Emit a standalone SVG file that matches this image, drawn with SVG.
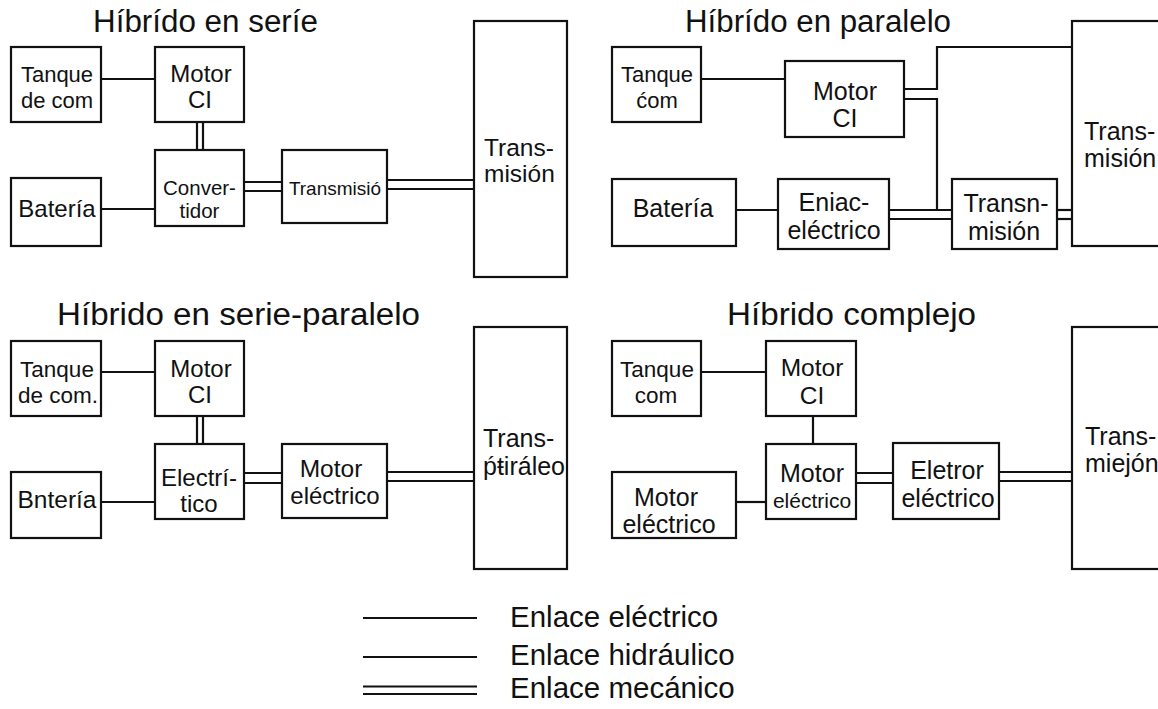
<svg xmlns="http://www.w3.org/2000/svg" width="1158" height="709" viewBox="0 0 1158 709">
<style>
text{font-family:"Liberation Sans",Arial,sans-serif;fill:#111}
.box{fill:#fff;stroke:#111;stroke-width:2.2}
.ln{fill:none;stroke:#111;stroke-width:2.2}
.t{text-anchor:middle}
.title{font-size:31px}
</style>
<rect width="1158" height="709" fill="#fff"/>
<g id="titles">
<text class="title" x="93" y="32" textLength="225" lengthAdjust="spacingAndGlyphs">Híbrído en seríe</text>
<text class="title" x="685" y="32" textLength="266" lengthAdjust="spacingAndGlyphs">Híbrído en paralelo</text>
<text class="title" x="57" y="325" textLength="363" lengthAdjust="spacingAndGlyphs">Híbrido en serie-paralelo</text>
<text class="title" x="727" y="325" textLength="249" lengthAdjust="spacingAndGlyphs">Híbrido complejo</text>
</g>
<g id="connectors">
<!-- Q1 -->
<line class="ln" x1="101" y1="79" x2="155" y2="79"/>
<line class="ln" x1="197" y1="122" x2="197" y2="150"/>
<line class="ln" x1="203" y1="122" x2="203" y2="150"/>
<line class="ln" x1="101" y1="209" x2="155" y2="209"/>
<line class="ln" x1="244" y1="182" x2="282" y2="182"/>
<line class="ln" x1="244" y1="191" x2="282" y2="191"/>
<line class="ln" x1="387" y1="180" x2="474" y2="180"/>
<line class="ln" x1="387" y1="189" x2="474" y2="189"/>
<!-- Q2 -->
<line class="ln" x1="701" y1="79" x2="785" y2="79"/>
<line class="ln" x1="736" y1="210" x2="778" y2="210"/>
<path class="ln" d="M904 89 H937 V47 H1072"/>
<path class="ln" d="M904 99 H937 V210"/>
<line class="ln" x1="889" y1="210" x2="952" y2="210"/>
<line class="ln" x1="889" y1="219" x2="952" y2="219"/>
<line class="ln" x1="1057" y1="210" x2="1072" y2="210"/>
<line class="ln" x1="1057" y1="219" x2="1072" y2="219"/>
<!-- Q3 -->
<line class="ln" x1="101" y1="372" x2="155" y2="372"/>
<line class="ln" x1="197" y1="416" x2="197" y2="444"/>
<line class="ln" x1="203" y1="416" x2="203" y2="444"/>
<line class="ln" x1="101" y1="502" x2="155" y2="502"/>
<line class="ln" x1="244" y1="473" x2="282" y2="473"/>
<line class="ln" x1="244" y1="483" x2="282" y2="483"/>
<line class="ln" x1="387" y1="472" x2="474" y2="472"/>
<line class="ln" x1="387" y1="481" x2="474" y2="481"/>
<!-- Q4 -->
<line class="ln" x1="701" y1="372" x2="766" y2="372"/>
<line class="ln" x1="813" y1="416" x2="813" y2="444"/>
<line class="ln" x1="736" y1="502" x2="766" y2="502"/>
<line class="ln" x1="856" y1="473" x2="893" y2="473"/>
<line class="ln" x1="856" y1="483" x2="893" y2="483"/>
<line class="ln" x1="999" y1="472" x2="1072" y2="472"/>
<line class="ln" x1="999" y1="481" x2="1072" y2="481"/>
</g>
<!-- Q1 nodes -->
<g id="q1-tanque"><rect class="box" x="11" y="47" width="90" height="75"/><text class="t" x="57" y="82" font-size="22">Tanque</text><text class="t" x="57" y="108" font-size="22">de com</text></g>
<g id="q1-motor"><rect class="box" x="155" y="47" width="89" height="75"/><text class="t" x="201" y="82" font-size="24">Motor</text><text class="t" x="200" y="108" font-size="24">CI</text></g>
<g id="q1-convertidor"><rect class="box" x="155" y="150" width="89" height="76"/><text class="t" x="199.5" y="195" font-size="20.5">Conver-</text><text class="t" x="199.5" y="218" font-size="20.5">tidor</text></g>
<g id="q1-bateria"><rect class="box" x="11" y="178" width="90" height="68"/><text class="t" x="57" y="217" font-size="24">Batería</text></g>
<g id="q1-transmisio"><rect class="box" x="282" y="150" width="105" height="73"/><text class="t" x="335" y="195" font-size="19">Transmisió</text></g>
<g id="q1-transmision"><rect class="box" x="474" y="21" width="93" height="256"/><text x="484" y="156" font-size="24.5">Trans-</text><text x="484" y="182" font-size="24.5">misión</text></g>
<!-- Q2 nodes -->
<g id="q2-tanque"><rect class="box" x="612" y="47" width="89" height="75"/><text class="t" x="657" y="82" font-size="22">Tanque</text><text class="t" x="657" y="108" font-size="22">ćom</text></g>
<g id="q2-motor"><rect class="box" x="785" y="61" width="119" height="76"/><text class="t" x="845" y="100" font-size="25">Motor</text><text class="t" x="845" y="127" font-size="25">CI</text></g>
<g id="q2-bateria"><rect class="box" x="612" y="179" width="124" height="67"/><text class="t" x="673" y="217" font-size="25">Batería</text></g>
<g id="q2-eniac"><rect class="box" x="778" y="179" width="111" height="70"/><text class="t" x="834" y="211" font-size="25">Eniac-</text><text class="t" x="834" y="239" font-size="25">eléctrico</text></g>
<g id="q2-transn"><rect class="box" x="952" y="179" width="105" height="70"/><text class="t" x="1006" y="212" font-size="25">Transn-</text><text class="t" x="1004" y="240" font-size="25">misión</text></g>
<g id="q2-transmision"><rect class="box" x="1072" y="21" width="120" height="225"/><text x="1084" y="140" font-size="25">Trans-</text><text x="1084" y="167" font-size="25">misión</text></g>
<!-- Q3 nodes -->
<g id="q3-tanque"><rect class="box" x="11" y="341" width="90" height="75"/><text class="t" x="57" y="377" font-size="22.5">Tanque</text><text class="t" x="58" y="403" font-size="22.5">de com.</text></g>
<g id="q3-motor"><rect class="box" x="155" y="341" width="89" height="75"/><text class="t" x="201" y="377" font-size="24">Motor</text><text class="t" x="200" y="403" font-size="24">CI</text></g>
<g id="q3-electrico"><rect class="box" x="155" y="444" width="89" height="75"/><text class="t" x="199" y="486" font-size="24">Electrí-</text><text class="t" x="199" y="512" font-size="24">tico</text></g>
<g id="q3-bnteria"><rect class="box" x="11" y="472" width="90" height="66"/><text class="t" x="57" y="508" font-size="24.5">Bntería</text></g>
<g id="q3-motor-elec"><rect class="box" x="282" y="444" width="105" height="74"/><text class="t" x="331" y="477" font-size="24.5">Motor</text><text class="t" x="335" y="504" font-size="24">eléctrico</text></g>
<g id="q3-transmision"><rect class="box" x="474" y="327" width="93" height="242"/><text x="483" y="447" font-size="25">Trans-</text><text x="483" y="475" font-size="25">ṕŧiráleo</text></g>
<!-- Q4 nodes -->
<g id="q4-tanque"><rect class="box" x="612" y="341" width="89" height="75"/><text class="t" x="657" y="377" font-size="22.5">Tanque</text><text class="t" x="656" y="403" font-size="22.5">com</text></g>
<g id="q4-motor"><rect class="box" x="766" y="341" width="90" height="75"/><text class="t" x="812" y="376" font-size="24.5">Motor</text><text class="t" x="812" y="404" font-size="24.5">CI</text></g>
<g id="q4-motor-elec-mid"><rect class="box" x="766" y="444" width="90" height="75"/><text class="t" x="812" y="482" font-size="25">Motor</text><text class="t" x="812" y="508" font-size="21">eléctrico</text></g>
<g id="q4-motor-elec-left"><rect class="box" x="612" y="472" width="124" height="66"/><text class="t" x="666" y="506" font-size="25">Motor</text><text class="t" x="669" y="533" font-size="25">eléctrico</text></g>
<g id="q4-eletror"><rect class="box" x="893" y="443" width="106" height="76"/><text class="t" x="947" y="479" font-size="25">Eletror</text><text class="t" x="948" y="507" font-size="25">eléctrico</text></g>
<g id="q4-transmision"><rect class="box" x="1072" y="327" width="120" height="242"/><text x="1085" y="445" font-size="25">Trans-</text><text x="1085" y="472" font-size="25">miejón</text></g>
<!-- Legend -->
<g id="legend">
<line class="ln" x1="363" y1="618" x2="477" y2="618"/>
<line class="ln" x1="363" y1="657" x2="477" y2="657"/>
<line class="ln" x1="363" y1="686.5" x2="477" y2="686.5"/>
<line class="ln" x1="363" y1="694" x2="477" y2="694"/>
<text x="510" y="627" font-size="29.5">Enlace eléctrico</text>
<text x="510" y="665" font-size="29.5">Enlace hidráulico</text>
<text x="510" y="698" font-size="29.5">Enlace mecánico</text>
</g>
</svg>
